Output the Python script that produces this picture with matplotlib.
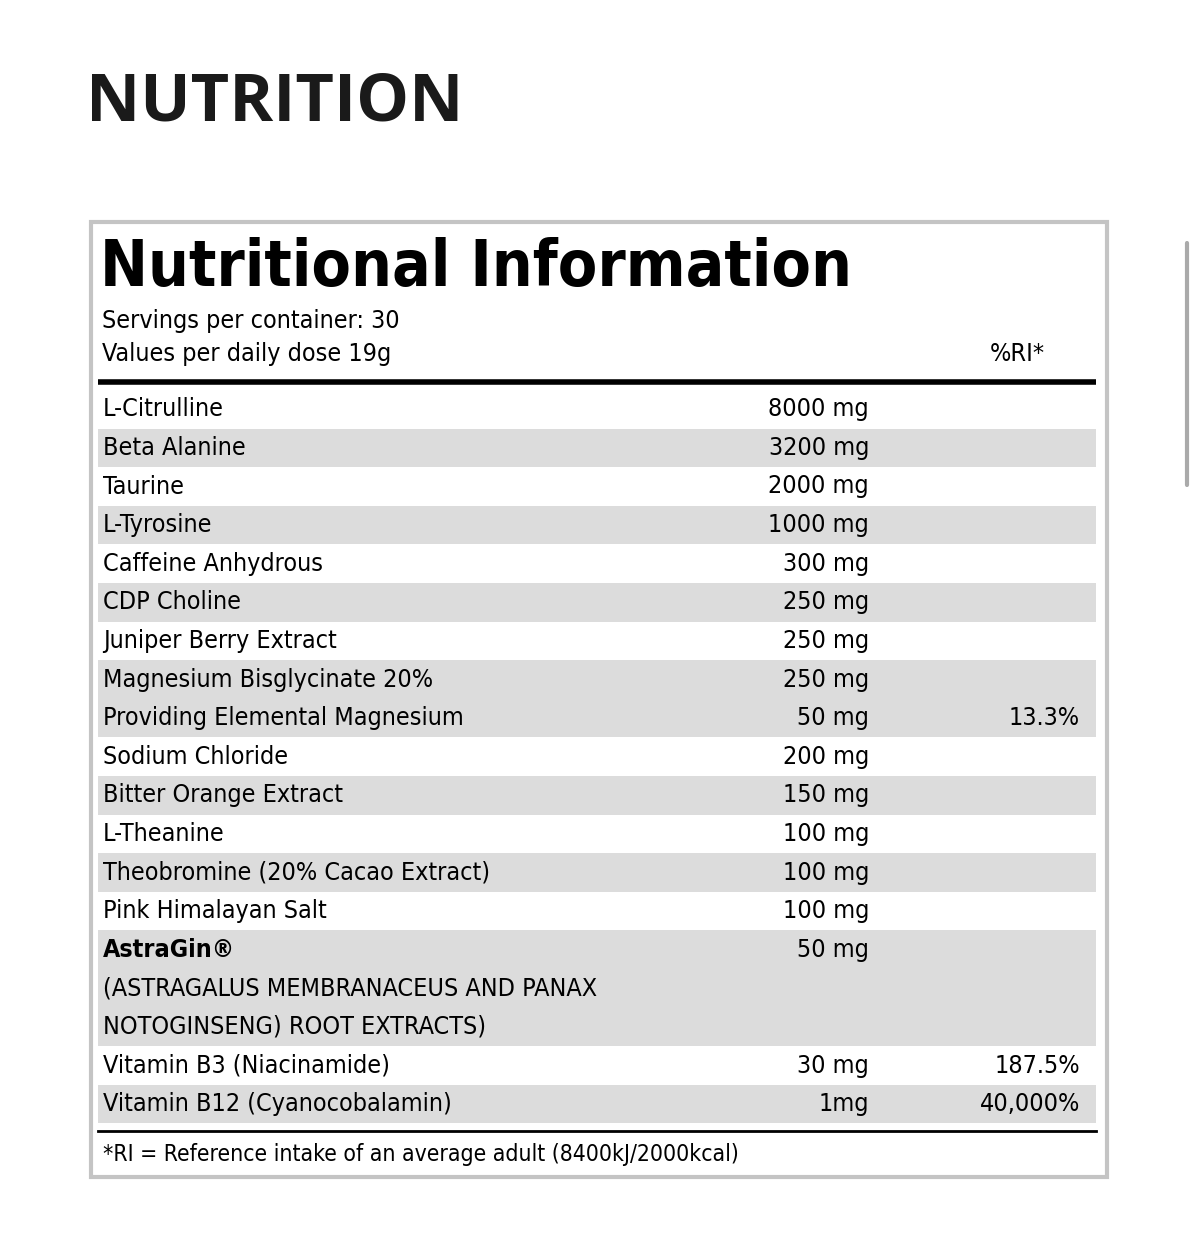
import matplotlib.pyplot as plt
from matplotlib.patches import Rectangle

names = ['L-Citrulline', 'Beta Alanine', 'Taurine', 'L-Tyrosine', 'Caffeine Anhydrous',
         'CDP Choline', 'Juniper Berry Extract', 'Magnesium Bisglycinate 20%',
         'Providing Elemental Magnesium', 'Sodium Chloride', 'Bitter Orange Extract',
         'L-Theanine', 'Theobromine (20% Cacao Extract)', 'Pink Himalayan Salt',
         'AstraGin®', 'Vitamin B3 (Niacinamide)', 'Vitamin B12 (Cyanocobalamin)']
amounts = ['8000 mg', '3200 mg', '2000 mg', '1000 mg', '300 mg', '250 mg', '250 mg',
           '250 mg', '50 mg', '200 mg', '150 mg', '100 mg', '100 mg', '100 mg',
           '50 mg', '30 mg', '1mg']
ri = ['', '', '', '', '', '', '', '', '13.3%', '', '', '', '', '', '', '187.5%', '40,000%']
shaded = [0, 1, 0, 1, 0, 1, 0, 1, 1, 0, 1, 0, 1, 0, 1, 0, 1]
lines = [1] * 14 + [3, 1, 1]
astra_sub = ['(ASTRAGALUS MEMBRANACEUS AND PANAX', 'NOTOGINSENG) ROOT EXTRACTS)']

cond = ['DejaVu Sans']
st = 'condensed'
fs = 18
fig = plt.figure(figsize=(12, 12.39), dpi=100)
ax = fig.add_axes([0, 0, 1, 1])
ax.set_xlim(0, 1200)
ax.set_ylim(1239, 0)
ax.axis('off')

ax.text(86, 103, 'NUTRITION', fontsize=48, fontweight='bold', family=['Open Sans', 'DejaVu Sans'],
        va='center', color='#1a1a1a')
ax.add_patch(Rectangle((91, 222), 1016, 955, fill=False, ec='#c4c4c4', lw=3))
ax.text(100, 268, 'Nutritional Information', fontsize=46, fontweight='bold', family=cond,
        stretch=st, va='center', color='black')
ax.text(102, 321, 'Servings per container: 30', fontsize=fs, family=cond, stretch=st, va='center')
ax.text(102, 354, 'Values per daily dose 19g', fontsize=fs, family=cond, stretch=st, va='center')
ax.text(1045, 354, '%RI*', fontsize=fs, family=cond, stretch=st, va='center', ha='right')
ax.plot([98, 1096], [382, 382], color='black', lw=4, solid_capstyle='butt')

rh = 38.6
y = 390
for i, nm in enumerate(names):
    h = rh * lines[i]
    if shaded[i]:
        ax.add_patch(Rectangle((98, y), 998, h, color='#dcdcdc', lw=0))
    yc = y + rh / 2
    ax.text(103, yc, nm, fontsize=fs, family=cond, stretch=st, va='center',
            fontweight='bold' if lines[i] > 1 else 'normal')
    ax.text(869, yc, amounts[i], fontsize=fs, family=cond, stretch=st, va='center', ha='right')
    if ri[i]:
        ax.text(1080, yc, ri[i], fontsize=fs, family=cond, stretch=st, va='center', ha='right')
    for k, sub in enumerate(astra_sub if lines[i] > 1 else []):
        ax.text(103, yc + rh * (k + 1), sub, fontsize=fs, family=cond, stretch=st, va='center')
    y += h

ax.plot([98, 1096], [1131, 1131], color='black', lw=2)
ax.text(103, 1155, '*RI = Reference intake of an average adult (8400kJ/2000kcal)',
        fontsize=16.5, family=cond, stretch=st, va='center')
ax.plot([1187, 1187], [243, 485], color='#aaaaaa', lw=3, solid_capstyle='round')

fig.savefig('out.png')
